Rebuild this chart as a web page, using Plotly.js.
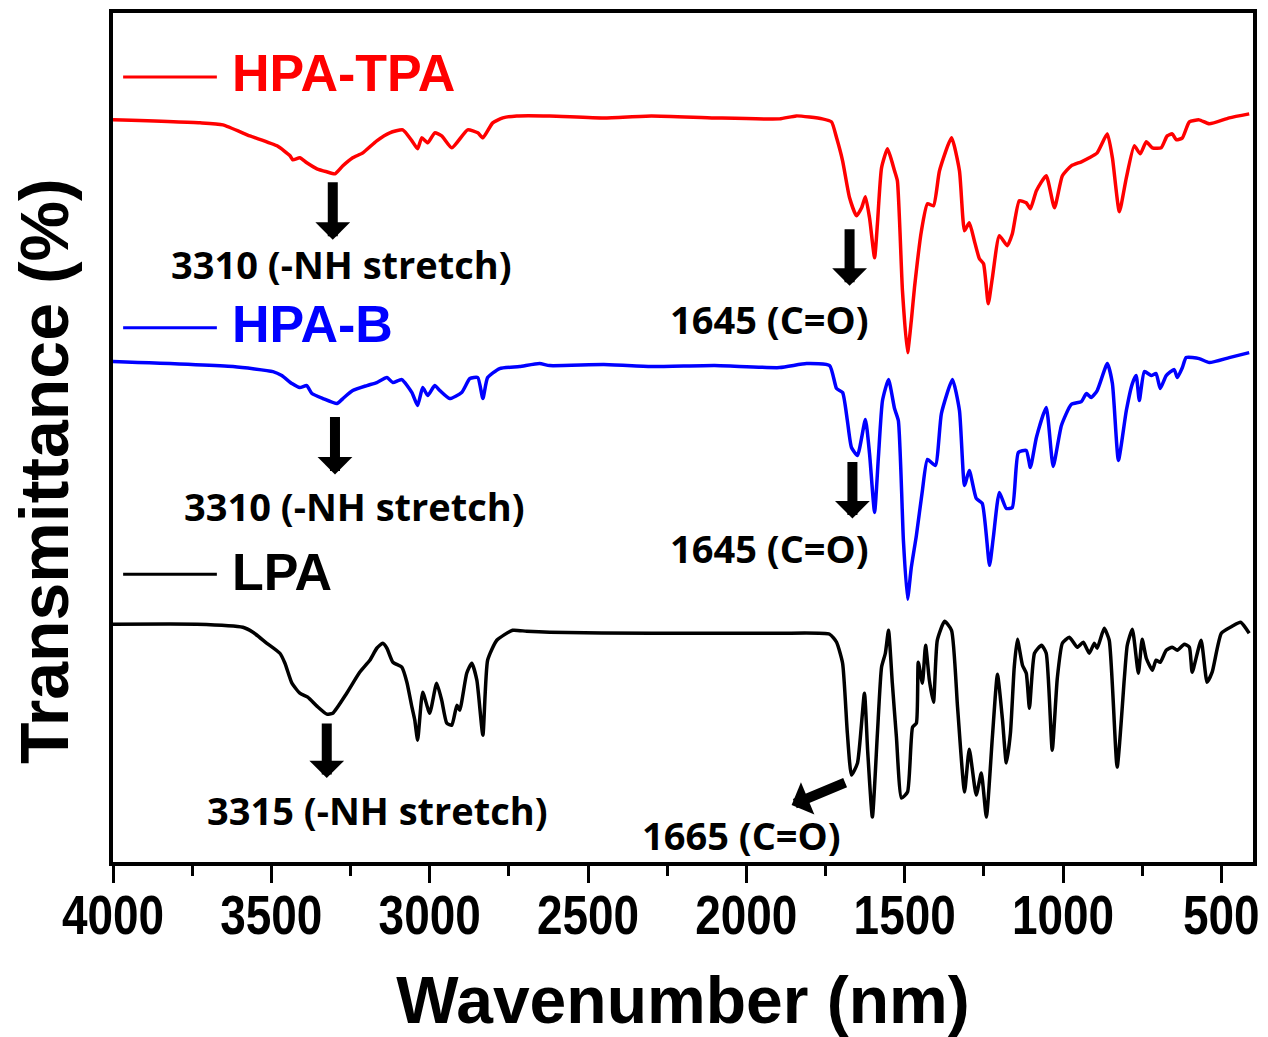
<!DOCTYPE html>
<html>
<head>
<meta charset="utf-8">
<script src="https://cdn.plot.ly/plotly-3.0.1.min.js"></script>
<style>html,body{margin:0;padding:0;background:#fff;}#chart{width:1268px;height:1037px;}</style>
</head>
<body>
<div id="chart"></div>
<script>
// ---- Data (wavenumber in cm^-1, transmittance in arbitrary offset units) ----
const seriesNames = ["HPA-TPA", "HPA-B", "LPA"];
const seriesColors = ["#ff0000", "#0000ff", "#000000"];

const hpaTpaWn = [4000,3725,3653,3568,3482,3441,3432,3410,3388,3356,3325,3299,3274,3243,3211,3167,3126,3085,3056,3038,3025,3006,2984,2962,2930,2880,2848,2832,2801,2769,2725,2621,2450,2300,2100,1895,1842,1760,1731,1715,1696,1674,1652,1636,1624,1611,1595,1586,1573,1554,1532,1523,1507,1491,1479,1469,1447,1428,1409,1390,1352,1327,1311,1296,1280,1264,1251,1236,1223,1201,1176,1160,1138,1116,1103,1084,1053,1027,1002,974,942,917,892,860,844,822,800,775,756,737,718,690,671,655,642,623,601,570,538,475,412];
const hpaTpaT  = [743,740,738,727,717,707,703,705,700,694,691,689,697,705,710,722,730,733,722,714,725,720,730,727,715,733,730,725,740,745,747,747,745,747,745,744,747,744,741,725,702,665,647,655,666,645,605,639,695,714,692,682,572,510,542,575,632,659,657,692,725,692,632,640,622,604,599,559,585,627,617,629,662,660,654,672,687,655,687,697,701,705,710,729,705,651,685,717,709,721,715,715,727,729,723,725,741,743,739,745,749];

const hpaBWn = [4000,3621,3495,3467,3435,3410,3388,3372,3337,3293,3274,3243,3198,3167,3135,3116,3088,3056,3038,3022,3006,2984,2968,2937,2899,2873,2848,2832,2817,2779,2716,2653,2621,2450,2300,2100,1895,1810,1737,1715,1696,1681,1668,1649,1624,1611,1595,1583,1570,1551,1532,1520,1504,1491,1479,1463,1444,1428,1403,1384,1349,1327,1311,1296,1274,1255,1232,1220,1201,1179,1160,1141,1116,1103,1084,1053,1031,1005,974,942,926,911,892,860,844,825,800,781,769,759,743,721,706,693,674,649,639,623,611,570,538,475,412];
const hpaBT  = [501,496,491,487,479,475,477,469,464,459,464,472,477,480,485,480,483,470,457,475,467,477,472,464,470,484,485,464,485,494,496,499,497,498,496,497,495,499,497,474,470,442,415,407,443,409,350,405,462,483,454,442,322,263,295,327,372,403,397,449,483,452,377,392,364,359,297,325,370,354,355,410,412,395,425,455,396,437,458,461,469,465,472,499,479,402,452,479,487,462,491,487,489,474,487,493,485,495,505,504,500,505,510];

const lpaWn = [4000,3735,3590,3558,3514,3473,3457,3435,3410,3385,3356,3325,3306,3262,3221,3189,3167,3148,3135,3116,3088,3072,3056,3047,3038,3022,3000,2978,2962,2946,2930,2914,2905,2883,2867,2851,2832,2817,2788,2738,2694,2621,2300,1895,1737,1715,1696,1681,1668,1649,1627,1617,1602,1586,1573,1561,1551,1539,1526,1510,1491,1475,1463,1457,1444,1434,1422,1409,1397,1374,1352,1333,1311,1296,1274,1258,1242,1223,1207,1191,1179,1166,1154,1144,1128,1116,1106,1090,1068,1053,1034,1018,1002,980,955,936,917,901,892,870,854,829,806,797,781,762,750,737,718,706,693,674,655,639,617,601,592,564,545,529,500,466,439,412];
const lpaT  = [238,238,235,230,219,209,199,179,169,165,156,148,149,169,190,202,214,219,214,200,195,180,155,142,122,170,149,179,162,139,137,157,152,189,199,182,127,202,222,232,231,230,229,229,228,220,199,129,87,99,169,112,45,129,195,209,232,179,125,64,70,135,139,200,179,217,182,160,222,241,232,155,70,113,67,89,45,125,188,142,99,129,195,223,197,189,154,209,217,209,112,184,219,225,215,220,209,219,214,234,222,95,185,217,233,189,223,204,192,202,200,212,215,212,218,215,190,222,180,190,229,236,240,229];

const xTickVals = [4000, 3500, 3000, 2500, 2000, 1500, 1000, 500];
const xTickText = ["4000", "3500", "3000", "2500", "2000", "1500", "1000", "500"];

const peakLabels = ["3310 (-NH stretch)", "1645 (C=O)", "3310 (-NH stretch)", "1645 (C=O)", "3315 (-NH stretch)", "1665 (C=O)"];

const wnSets = [hpaTpaWn, hpaBWn, lpaWn];
const tSets = [hpaTpaT, hpaBT, lpaT];

const traces = seriesNames.map((n, i) => ({
  type: 'scatter', mode: 'lines', name: n,
  x: wnSets[i], y: tSets[i],
  line: {color: seriesColors[i], width: 3.5, shape: 'spline', smoothing: 0.5},
  showlegend: false, hoverinfo: 'skip'
}));

const labelFont = {family: 'Open Sans, Noto Sans, sans-serif', size: 38, color: '#000', weight: 700};
const legFont = (c) => ({family: 'Liberation Sans, Arial, sans-serif', size: 52, color: c, weight: 700});

const annotations = [
  {x: 3631, y: 790, text: '<b>' + seriesNames[0] + '</b>', font: legFont(seriesColors[0])},
  {x: 3631, y: 539, text: '<b>' + seriesNames[1] + '</b>', font: legFont(seriesColors[1])},
  {x: 3631, y: 290, text: '<b>' + seriesNames[2] + '</b>', font: legFont(seriesColors[2])},
].map(a => Object.assign({xref: 'x', yref: 'y', showarrow: false, xanchor: 'left', yanchor: 'middle'}, a));

[[3277, 599], [1927, 544], [3236, 356], [1927, 314], [3164, 52], [2015, 27]].forEach((p, i) => {
  annotations.push({xref: 'x', yref: 'y', x: p[0], y: p[1], text: '<b>' + peakLabels[i] + '</b>',
    showarrow: false, xanchor: 'center', yanchor: 'middle', font: labelFont});
});
[[3306, 623, 0, -59], [1674, 577, 0, -58], [3299, 388, 0, -59], [1665, 344, 0, -58], [3325, 84, 0, -56], [1857, 57, 55, -23]].forEach(a => {
  annotations.push({xref: 'x', yref: 'y', x: a[0], y: a[1], ax: a[2], ay: a[3], text: '',
    showarrow: true, arrowhead: 1, arrowsize: 0.58, arrowwidth: 10, arrowcolor: '#000'});
});
annotations.push({xref: 'paper', yref: 'paper', x: -0.06, y: 0.46, text: '<b>Transmittance (%)</b>', textangle: -90,
  showarrow: false, xanchor: 'center', yanchor: 'middle', font: {family: 'Liberation Sans, Arial, sans-serif', size: 68, color: '#000'}});

const shapes = [786, 535, 288].map((yv, i) => ({
  type: 'line', xref: 'x', yref: 'y', x0: 3968, x1: 3672, y0: yv, y1: yv,
  line: {color: seriesColors[i], width: 3}
}));

const layout = {
  width: 1268, height: 1037,
  margin: {l: 113, r: 15, t: 13, b: 175},
  paper_bgcolor: '#fff', plot_bgcolor: '#fff',
  showlegend: false,
  xaxis: {
    range: [4000, 400], showgrid: false, zeroline: false,
    showline: true, linecolor: '#000', linewidth: 4, mirror: true,
    ticks: 'outside', ticklen: 17, tickwidth: 3, tickcolor: '#000',
    tickvals: xTickVals, ticktext: xTickText, ticklabeloverflow: 'allow',
    tickfont: {family: 'Liberation Sans, Arial, sans-serif', size: 56, color: '#000', weight: 700},
    minor: {dtick: 250, ticks: 'outside', ticklen: 10, tickwidth: 3, tickcolor: '#000', showgrid: false},
    title: {text: '<b>Wavenumber (nm)</b>', font: {family: 'Liberation Sans, Arial, sans-serif', size: 66, color: '#000'}, standoff: 18}
  },
  yaxis: {
    range: [0, 850], showgrid: false, zeroline: false,
    showline: true, linecolor: '#000', linewidth: 4, mirror: true,
    ticks: '', showticklabels: false
  },
  annotations: annotations,
  shapes: shapes
};

Plotly.newPlot('chart', traces, layout, {staticPlot: true, displayModeBar: false}).then(gd => {
  // condense the x tick labels horizontally (reference uses a narrow bold face)
  gd.querySelectorAll('.xtick text').forEach(el => {
    const x = parseFloat(el.getAttribute('x') || '0');
    const t = el.getAttribute('transform') || '';
    el.setAttribute('transform', t + ` translate(${x},-16) scale(0.82,1) translate(${-x},0)`);
  });
});
</script>
</body>
</html>
